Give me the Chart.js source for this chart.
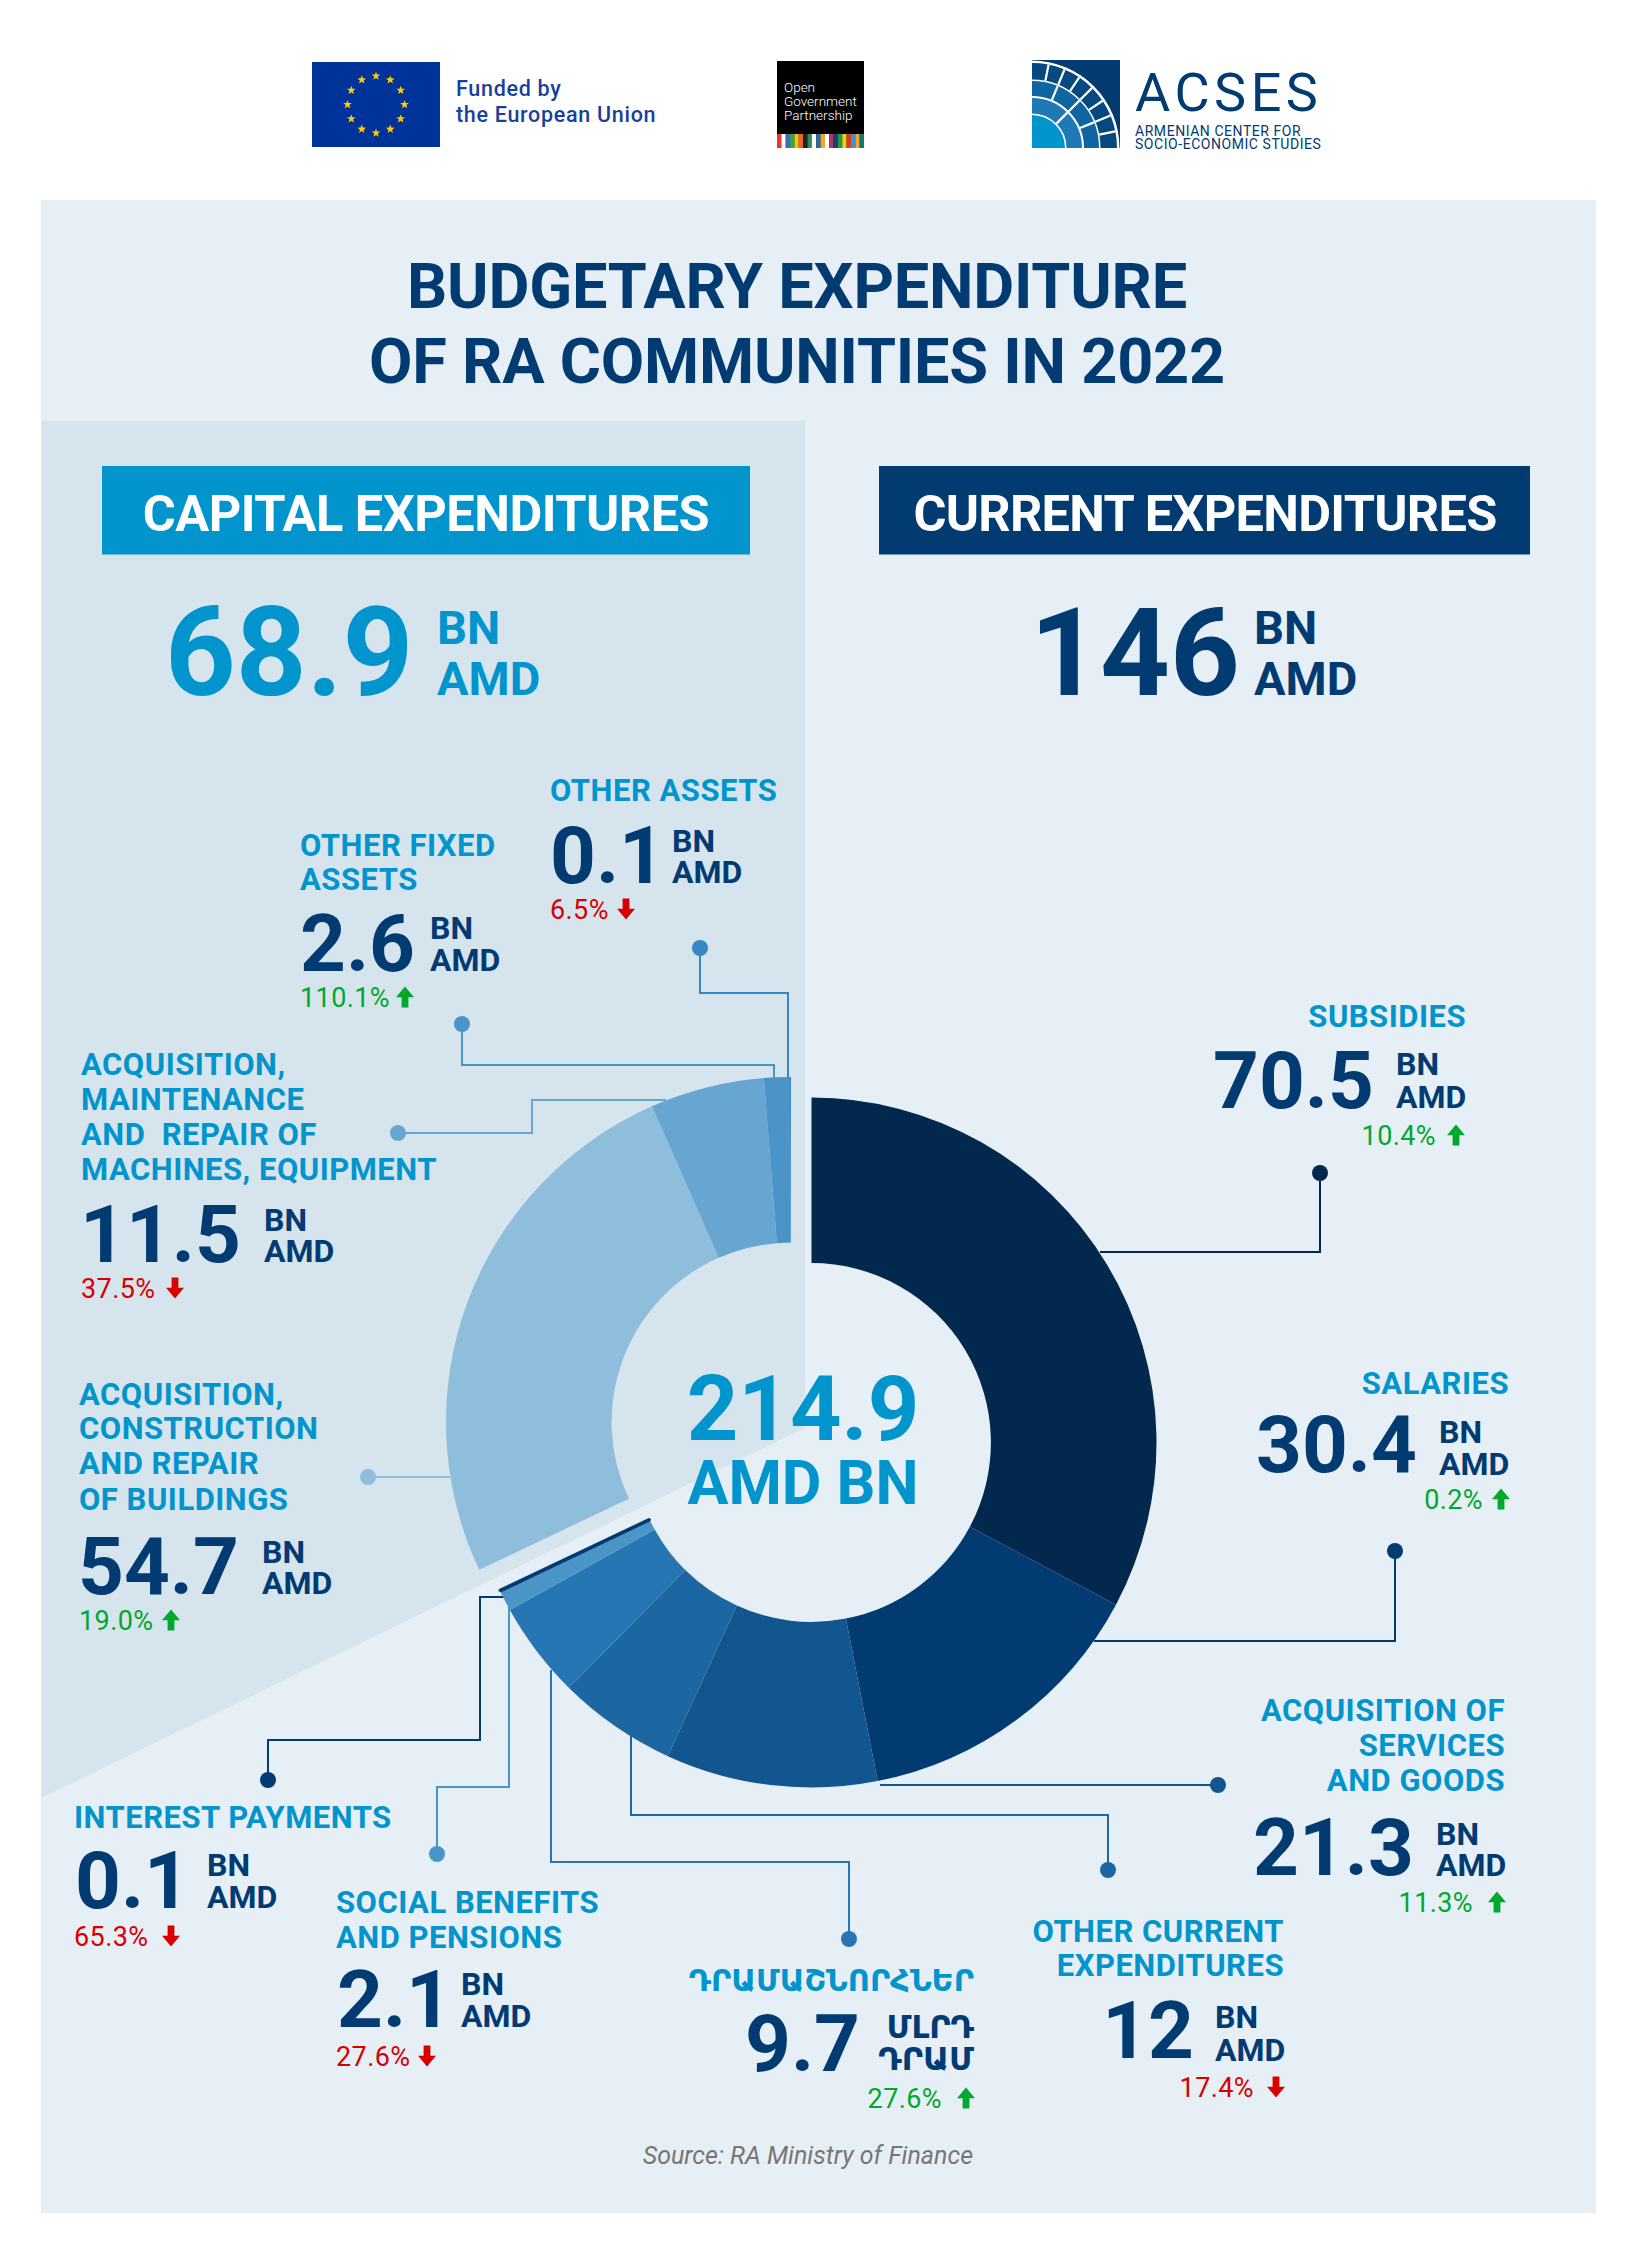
<!DOCTYPE html>
<html>
<head>
<meta charset="utf-8">
<title>Budgetary expenditure of RA communities in 2022</title>
<script src="https://cdn.jsdelivr.net/npm/chart.js@4"></script>
<style>
  html, body { margin: 0; padding: 0; background: #fff; }
  #page { position: relative; width: 1638px; height: 2263px; overflow: hidden; }
  #art { position: absolute; left: 0; top: 0; }
  #art text { font-family: Roboto, 'DejaVu Sans', sans-serif; }
  canvas { position: absolute; }
</style>
</head>
<body>
<div id="page">
  <svg id="art" width="1638" height="2263" viewBox="0 0 1638 2263" xmlns="http://www.w3.org/2000/svg"></svg>
  <canvas id="currentChart" width="693" height="693" style="left:465px;top:1096px;width:693px;height:693px"></canvas>
  <canvas id="capitalChart" width="690" height="690" style="left:446px;top:1077px;width:690px;height:690px"></canvas>
</div>

<script>
/* ─── DATA ─────────────────────────────────────────── */
const currentLabels = ['SUBSIDIES', 'SALARIES', 'ACQUISITION OF\nSERVICES\nAND GOODS', 'OTHER CURRENT\nEXPENDITURES', 'ԴՐԱՄԱՇՆՈՐՀՆԵՐ', 'SOCIAL BENEFITS\nAND PENSIONS', 'INTEREST PAYMENTS'];
const currentValues = [70.5, 30.4, 21.3, 12, 9.7, 2.1, 0.1];
const currentChanges = [10.4, 0.2, 11.3, -17.4, 27.6, -27.6, -65.3];
const currentColors = ['#02294d', '#023a72', '#12568f', '#1c66a2', '#2676b3', '#4a94c7', '#023a72'];

const capitalLabels = ['ACQUISITION,\nCONSTRUCTION\nAND REPAIR\nOF BUILDINGS', 'ACQUISITION,\nMAINTENANCE\nAND  REPAIR OF\nMACHINES, EQUIPMENT', 'OTHER FIXED\nASSETS', 'OTHER ASSETS'];
const capitalValues = [54.7, 11.5, 2.6, 0.1];
const capitalChanges = [19.0, -37.5, 110.1, -6.5];
const capitalColors = ['#8fbddc', '#66a6d0', '#4a94c7', '#3886c4'];

const capitalTotal = 68.9;
const currentTotal = 146;
const grandTotal = 214.9;

/* ─── COLORS ───────────────────────────────────────── */
const NAVY = '#023a72';
const CYAN = '#0194cd';
const RED = '#d90000';
const GREEN = '#00a82d';

/* ─── SVG HELPERS ──────────────────────────────────── */
const art = document.getElementById('art');
const NS = 'http://www.w3.org/2000/svg';

function el(tag, attrs, parent) {
  const node = document.createElementNS(NS, tag);
  Object.keys(attrs).forEach((k) => node.setAttribute(k, attrs[k]));
  (parent || art).appendChild(node);
  return node;
}

function txt(str, x, y, size, fill, opts) {
  const o = opts || {};
  const node = el('text', {
    x, y, fill,
    'font-size': size,
    'font-weight': o.weight || 700,
    'text-anchor': o.anchor || 'start',
    'font-style': o.italic ? 'italic' : 'normal'
  }, o.parent);
  node.style.whiteSpace = 'pre';
  if (o.family) node.style.fontFamily = o.family;
  if (o.spacing) node.setAttribute('letter-spacing', o.spacing);
  node.textContent = str;
  return node;
}

function arrow(x, top, up, fill) {
  const w = 18, h = 21, s = 3.4, head = 10.7;
  const pts = up
    ? [[x + w / 2, top], [x + w, top + head], [x + w / 2 + s, top + head], [x + w / 2 + s, top + h], [x + w / 2 - s, top + h], [x + w / 2 - s, top + head], [x, top + head]]
    : [[x + w / 2, top + h], [x + w, top + h - head], [x + w / 2 + s, top + h - head], [x + w / 2 + s, top], [x + w / 2 - s, top], [x + w / 2 - s, top + h - head], [x, top + h - head]];
  el('polygon', { points: pts.map((p) => p.join(',')).join(' '), fill });
}

/* leader line from the ring out to a round dot */
function leader(points, color) {
  el('polyline', { points: points.map((p) => p.join(',')).join(' '), fill: 'none', stroke: color, 'stroke-width': 2 });
  const end = points[points.length - 1];
  el('circle', { cx: end[0], cy: end[1], r: 8, fill: color });
}

/* one label block: title lines, big number, units, change and arrow */
function callout(label, value, change, pos) {
  const anchor = pos.titleAnchor || 'start';
  label.split('\n').forEach((line, i) => {
    txt(line, pos.titleX, pos.titleY[i], pos.titleSize || 31, CYAN, { anchor, family: pos.titleFamily, spacing: pos.titleFamily ? 0 : 0.5 });
  });
  txt(String(value), pos.valueX, pos.valueY, 80, NAVY, { anchor: pos.valueAnchor || 'start' });
  const units = pos.units || ['BN', 'AMD'];
  units.forEach((u, i) => {
    txt(u, pos.unitX, pos.unitY[i], pos.unitSize || 32, NAVY, { anchor: pos.unitAnchor || 'start', family: pos.unitFamily });
  });
  const up = change >= 0;
  const color = up ? GREEN : RED;
  txt(Math.abs(change).toFixed(1) + '%', pos.changeX, pos.changeY, 27, color, { weight: 400, anchor: pos.changeAnchor || 'start', spacing: 0.4 });
  arrow(pos.arrowX, pos.changeY - 20.5, up, color);
}

/* ─── BACKGROUND PANELS ────────────────────────────── */
el('rect', { x: 41, y: 200, width: 1555, height: 2013, fill: '#e6eff5' });
el('polygon', { points: '41,421 805,421 805,1428 41,1798', fill: '#d6e4ed' });

/* ─── LOGOS ────────────────────────────────────────── */
function drawLogos() {
  // EU flag
  el('rect', { x: 312, y: 62, width: 128, height: 85, fill: '#003399' });
  for (let i = 0; i < 12; i++) {
    const a = i * Math.PI / 6;
    const cx = 376 + 28.5 * Math.sin(a), cy = 104.5 - 28.5 * Math.cos(a);
    const star = [];
    for (let k = 0; k < 10; k++) {
      const r = k % 2 ? 1.9 : 4.6, b = k * Math.PI / 5;
      star.push((cx + r * Math.sin(b)).toFixed(1) + ',' + (cy - r * Math.cos(b)).toFixed(1));
    }
    el('polygon', { points: star.join(' '), fill: '#ffcc00' });
  }
  txt('Funded by', 456, 96, 21.5, '#1b3f9e', { weight: 500, spacing: 0.7 });
  txt('the European Union', 456, 122, 21.5, '#1b3f9e', { weight: 500, spacing: 0.7 });

  // Open Government Partnership
  el('rect', { x: 777, y: 61, width: 87, height: 87, fill: '#000' });
  ['Open', 'Government', 'Partnership'].forEach((t, i) => {
    txt(t, 784, 92 + i * 14, 13.5, '#fff', { weight: 300 });
  });
  ['#e53a2b', '#fff', '#3a6fc0', '#2fa84f', '#f0c419', '#e8662a', '#222', '#2a8c4e', '#fff', '#2a6ca8', '#f5a623', '#fff', '#b03a5b', '#1f3f7a', '#19a04b', '#f3d01e', '#d93a2a', '#4a90d0', '#f5a623', '#0f7a6d'].forEach((c, i) => {
    el('rect', { x: 777 + i * 4.35, y: 134, width: 4.4, height: 14, fill: c });
  });

  // ACSES mark: quarter rings around the bottom-left corner
  const ox = 1032, oy = 148;
  const clip = el('clipPath', { id: 'acsesClip' });
  el('rect', { x: ox, y: 60, width: 88, height: 88 }, clip);
  const inner = el('g', { 'clip-path': 'url(#acsesClip)' });
  el('rect', { x: ox, y: 60, width: 88, height: 88, fill: '#033a70' }, inner);
  el('circle', { cx: ox, cy: oy, r: 87.5, fill: '#fff' }, inner);
  // r from, r to, color, ray angles
  [[68.5, 85, '#05497e', [11.25, 22.5, 33.75, 45, 56.25, 67.5, 78.75]],
   [52, 67, '#0f659f', [22.5, 45, 67.5]],
   [34.5, 50, '#1e79b5', [45]]].forEach((ring) => {
    el('circle', { cx: ox, cy: oy, r: (ring[0] + ring[1]) / 2, fill: 'none', stroke: ring[2], 'stroke-width': ring[1] - ring[0] }, inner);
    ring[3].forEach((deg) => {
      const a = deg * Math.PI / 180;
      el('line', { x1: ox + ring[0] * Math.cos(a), y1: oy - ring[0] * Math.sin(a), x2: ox + ring[1] * Math.cos(a), y2: oy - ring[1] * Math.sin(a), stroke: '#fff', 'stroke-width': 2.2 }, inner);
    });
  });
  el('circle', { cx: ox, cy: oy, r: 33, fill: CYAN }, inner);
  txt('ACSES', 1135, 111, 54, NAVY, { weight: 400, spacing: 4.5 });
  txt('ARMENIAN CENTER FOR', 1135, 135.5, 14, NAVY, { weight: 400, spacing: 0.55 });
  txt('SOCIO-ECONOMIC STUDIES', 1135, 149, 14, NAVY, { weight: 400, spacing: 0.55 });
}
drawLogos();

/* ─── HEADERS ──────────────────────────────────────── */
txt('BUDGETARY EXPENDITURE', 797, 308, 63, NAVY, { anchor: 'middle', spacing: -0.2 });
txt('OF RA COMMUNITIES IN 2022', 797, 383, 63, NAVY, { anchor: 'middle', spacing: -0.2 });

el('rect', { x: 102, y: 466, width: 648, height: 88.5, fill: CYAN });
txt('CAPITAL EXPENDITURES', 426, 531, 50.5, '#fff', { anchor: 'middle', spacing: -0.5 });
el('rect', { x: 879, y: 466, width: 651, height: 88.5, fill: NAVY });
txt('CURRENT EXPENDITURES', 1205, 531, 50.5, '#fff', { anchor: 'middle', spacing: -0.7 });

txt(String(capitalTotal), 165, 695, 123.5, CYAN);
txt('BN', 437, 644, 47, CYAN);
txt('AMD', 437, 695, 47, CYAN);
txt(String(currentTotal), 1030, 695, 122, NAVY);
txt('BN', 1254, 644, 47, NAVY);
txt('AMD', 1254, 695, 47, NAVY);

/* ─── LEADER LINES ─────────────────────────────────── */
leader([[1100, 1252], [1320, 1252], [1320, 1173]], currentColors[0]);
leader([[1094, 1641], [1395, 1641], [1395, 1551]], currentColors[1]);
leader([[880, 1785], [1218, 1785]], currentColors[2]);
leader([[631, 1735], [631, 1815], [1108, 1815], [1108, 1870]], currentColors[3]);
leader([[551, 1670], [551, 1862], [849, 1862], [849, 1939]], currentColors[4]);
leader([[509, 1600], [509, 1787], [437, 1787], [437, 1854]], currentColors[5]);
leader([[504, 1597], [480, 1597], [480, 1740], [268, 1740], [268, 1780]], currentColors[6]);
leader([[450, 1477], [368, 1477]], capitalColors[0]);
leader([[666, 1100], [532, 1100], [532, 1133], [398, 1133]], capitalColors[1]);
leader([[774, 1078], [774, 1065], [462, 1065], [462, 1024]], capitalColors[2]);
leader([[788, 1078], [788, 993], [700, 993], [700, 948]], capitalColors[3]);

/* ─── CALLOUT TEXT ─────────────────────────────────── */
callout(currentLabels[0], currentValues[0], currentChanges[0], {
  titleX: 1466, titleAnchor: 'end', titleY: [1027], valueX: 1213, valueY: 1108,
  unitX: 1396, unitY: [1075, 1108], changeX: 1436, changeAnchor: 'end', changeY: 1145, arrowX: 1447
});
callout(currentLabels[1], currentValues[1], currentChanges[1], {
  titleX: 1509, titleAnchor: 'end', titleY: [1394], valueX: 1256, valueY: 1472,
  unitX: 1439, unitY: [1443, 1475], changeX: 1483, changeAnchor: 'end', changeY: 1509, arrowX: 1492
});
callout(currentLabels[2], currentValues[2], currentChanges[2], {
  titleX: 1505, titleAnchor: 'end', titleY: [1721, 1756, 1791], valueX: 1253, valueY: 1875,
  unitX: 1436, unitY: [1845, 1876], changeX: 1473, changeAnchor: 'end', changeY: 1912, arrowX: 1488
});
callout(currentLabels[3], currentValues[3], currentChanges[3], {
  titleX: 1284, titleAnchor: 'end', titleY: [1942, 1976], valueX: 1194, valueAnchor: 'end', valueY: 2058,
  unitX: 1215, unitY: [2028, 2061], changeX: 1254, changeAnchor: 'end', changeY: 2097, arrowX: 1267
});
callout(currentLabels[4], currentValues[4], currentChanges[4], {
  titleX: 974, titleAnchor: 'end', titleY: [1991], titleSize: 30.4, titleFamily: "'DejaVu Sans'",
  valueX: 860, valueAnchor: 'end', valueY: 2071,
  units: ['ՄԼՐԴ', 'ԴՐԱՄ'], unitX: 974, unitAnchor: 'end', unitY: [2038, 2070], unitSize: 32, unitFamily: "'DejaVu Sans'",
  changeX: 942, changeAnchor: 'end', changeY: 2108, arrowX: 957
});
callout(currentLabels[5], currentValues[5], currentChanges[5], {
  titleX: 336, titleY: [1913, 1948], valueX: 337, valueY: 2027,
  unitX: 461, unitY: [1995, 2027], changeX: 336, changeY: 2066, arrowX: 418
});
callout(currentLabels[6], currentValues[6], currentChanges[6], {
  titleX: 74, titleY: [1828], valueX: 75, valueY: 1908,
  unitX: 207, unitY: [1876, 1908], changeX: 74, changeY: 1946, arrowX: 162
});
callout(capitalLabels[0], capitalValues[0], capitalChanges[0], {
  titleX: 79, titleY: [1405, 1439, 1474, 1510], valueX: 78, valueY: 1594,
  unitX: 262, unitY: [1563, 1594], changeX: 79, changeY: 1630, arrowX: 162
});
callout(capitalLabels[1], capitalValues[1], capitalChanges[1], {
  titleX: 81, titleY: [1075, 1110, 1145, 1180], valueX: 80, valueY: 1262,
  unitX: 264, unitY: [1231, 1262], changeX: 81, changeY: 1298, arrowX: 166
});
callout(capitalLabels[2], capitalValues[2], capitalChanges[2], {
  titleX: 300, titleY: [856, 890], valueX: 300, valueY: 971,
  unitX: 430, unitY: [939, 971], changeX: 300, changeY: 1007, arrowX: 396
});
callout(capitalLabels[3], capitalValues[3], capitalChanges[3], {
  titleX: 550, titleY: [801], valueX: 550, valueY: 883,
  unitX: 672, unitY: [852, 883], changeX: 550, changeY: 919, arrowX: 617
});

/* ─── CENTER AND SOURCE ────────────────────────────── */
txt(String(grandTotal), 803, 1440, 90, CYAN, { anchor: 'middle' });
txt('AMD BN', 803, 1504, 61, CYAN, { anchor: 'middle' });
txt('Source: RA Ministry of Finance', 973, 2164, 25, '#767676', { weight: 400, italic: true, anchor: 'end' });

/* ─── CHARTS ───────────────────────────────────────────
   Both halves are full circles with a transparent slice
   for the other half, so radius and center stay fixed.   */
const ringOpts = {
  responsive: false,
  animation: false,
  cutout: '52%',
  layout: { padding: 0 },
  plugins: { legend: { display: false }, tooltip: { enabled: false } }
};

function initRing(id, labels, values, colors, restValue, rotation, borders) {
  new Chart(document.getElementById(id), {
    type: 'doughnut',
    data: {
      labels: [...labels, ''],
      datasets: [{
        data: [...values, restValue],
        backgroundColor: [...colors, 'rgba(0,0,0,0)'],
        borderColor: [...colors, 'rgba(0,0,0,0)'],
        borderWidth: [...borders, 0]
      }]
    },
    options: { ...ringOpts, rotation }
  });
}

const sumOf = (arr) => arr.reduce((a, b) => a + b, 0);
const capSum = sumOf(capitalValues);
const curSum = sumOf(currentValues);

// the 0.1 interest slice gets a thin border so it stays visible
initRing('currentChart', currentLabels, currentValues, currentColors, capSum, 0, [0, 0, 0, 0, 0, 0, 3]);
initRing('capitalChart', capitalLabels, capitalValues, capitalColors, curSum, -360 * capSum / (capSum + curSum), [0, 0, 0, 0]);
</script>
</body>
</html>
